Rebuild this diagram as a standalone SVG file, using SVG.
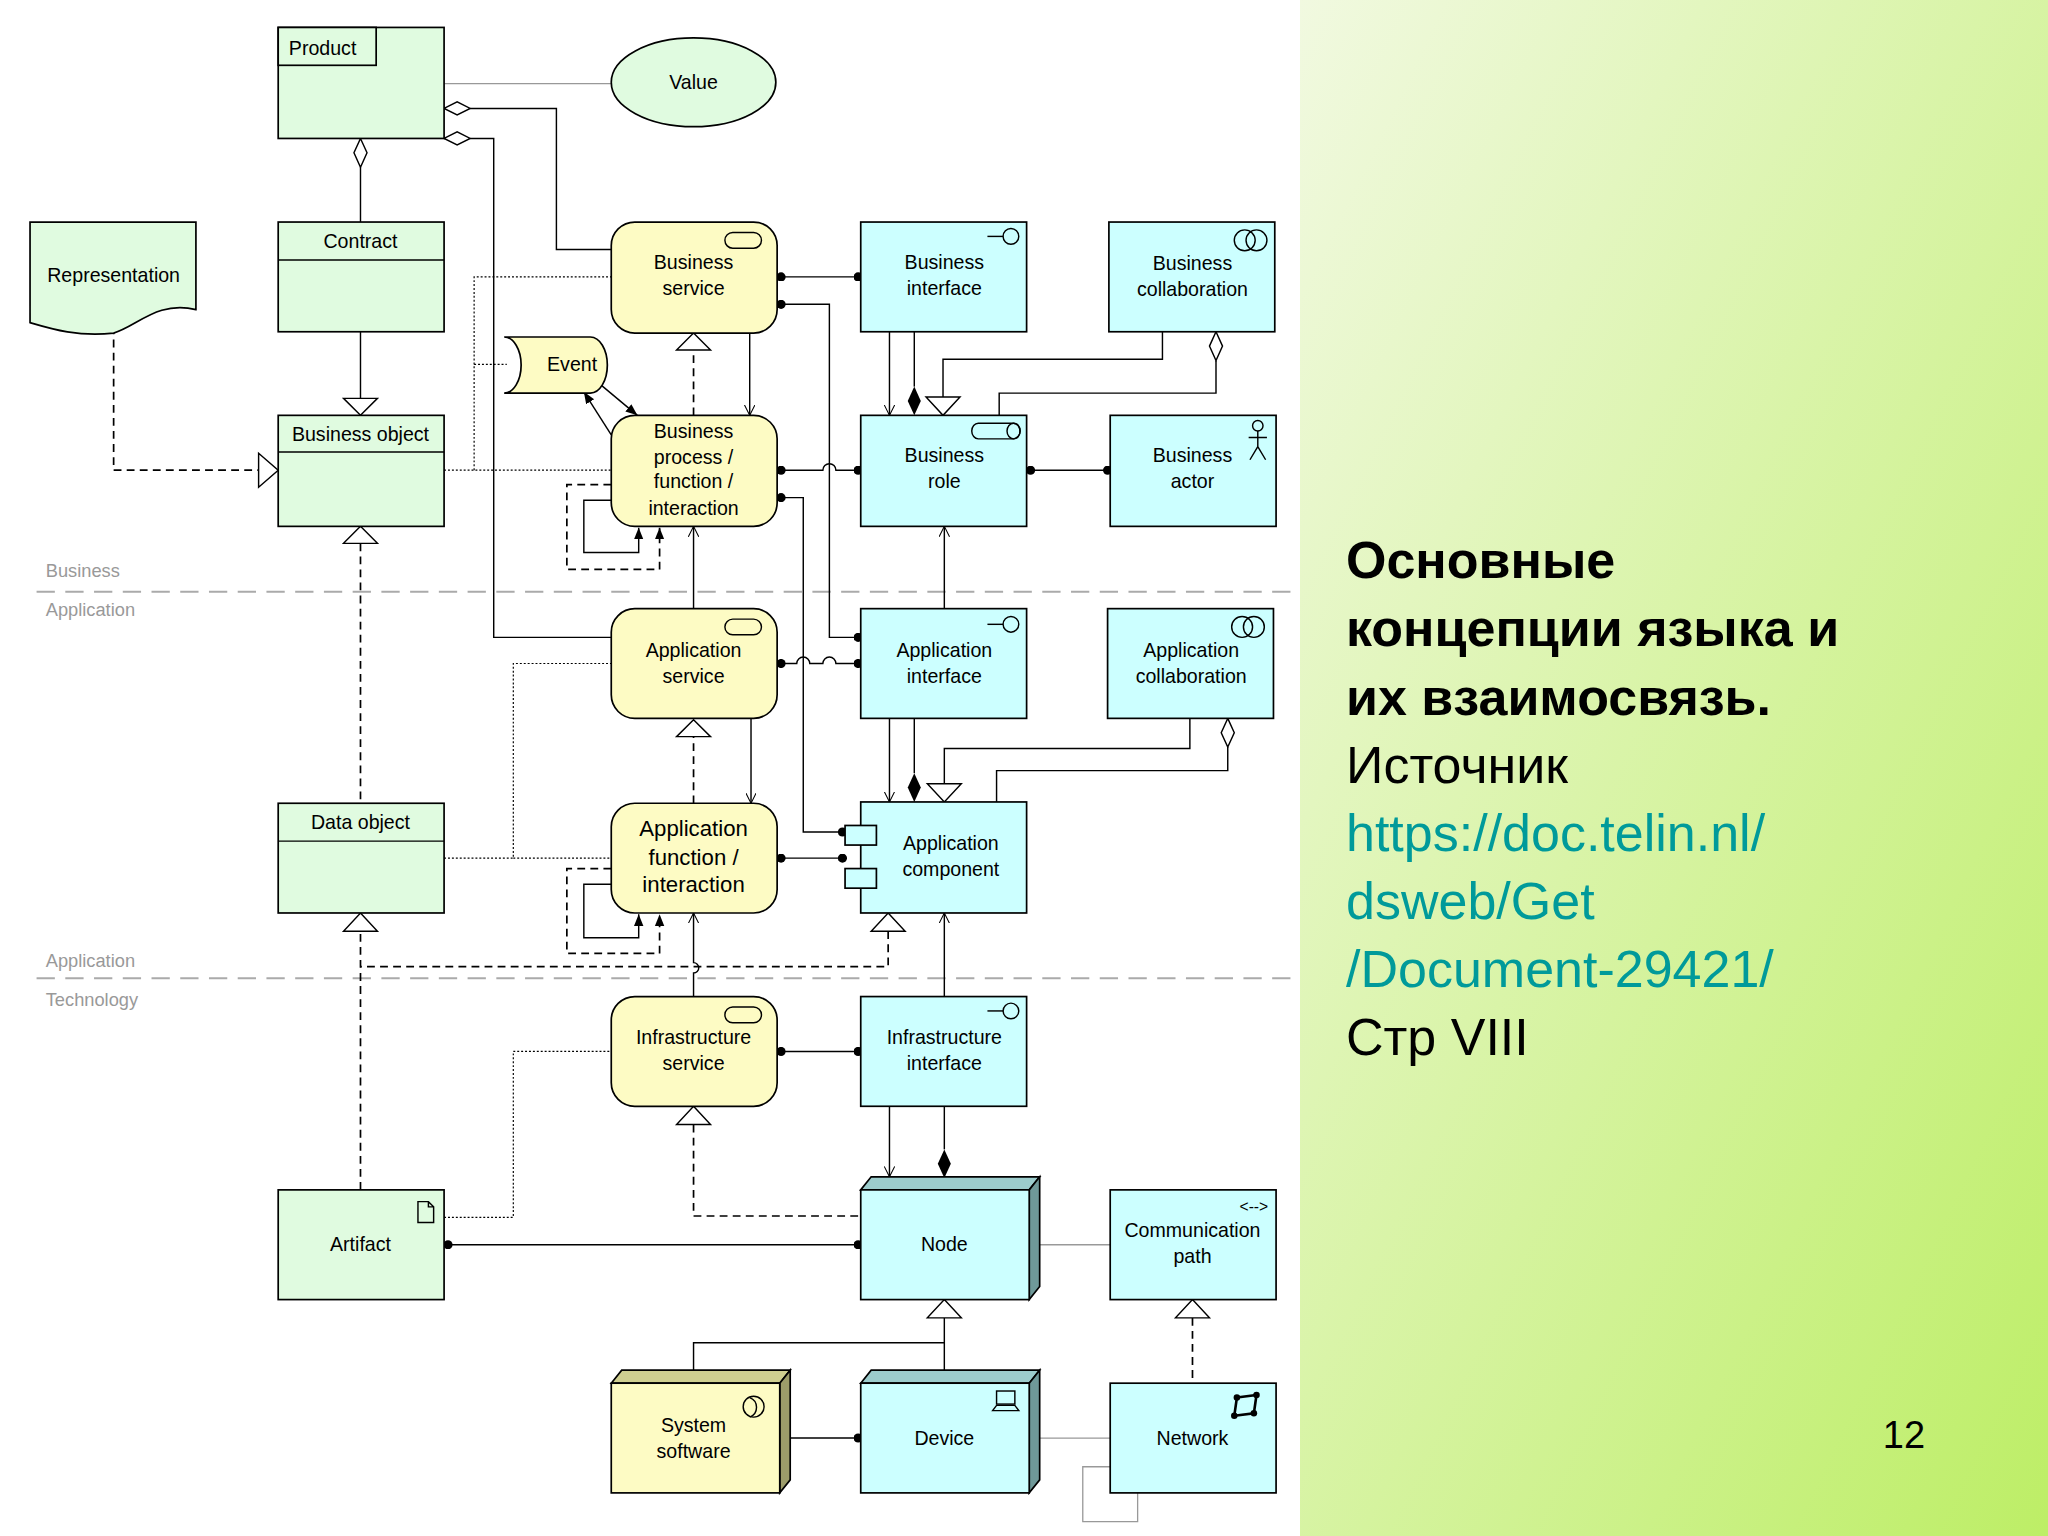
<svg xmlns="http://www.w3.org/2000/svg" width="2048" height="1536" viewBox="0 0 2048 1536">
<defs>
<linearGradient id="bg" x1="0" y1="0" x2="1" y2="1">
<stop offset="0" stop-color="#f1f9e0"/><stop offset="1" stop-color="#bdee66"/>
</linearGradient>
<marker id="oa" viewBox="0 0 10 10" refX="10" refY="5" markerWidth="8" markerHeight="8" orient="auto" markerUnits="userSpaceOnUse"><path d="M0,0 L10,5 L0,10" fill="none" stroke="#000"/></marker>
<marker id="fa" viewBox="0 0 10 10" refX="10" refY="5" markerWidth="9" markerHeight="9" orient="auto" markerUnits="userSpaceOnUse"><path d="M0,1 L10,5 L0,9z" fill="#000"/></marker>
<marker id="dot" viewBox="0 0 10 10" refX="5" refY="5" markerWidth="7" markerHeight="7" markerUnits="userSpaceOnUse"><circle cx="5" cy="5" r="5" fill="#000"/></marker>
</defs>
<style>
text{font-family:"Liberation Sans",Arial,sans-serif;font-size:15px;fill:#000;text-anchor:middle}
.g{fill:#e0fbe0;stroke:#000;stroke-width:1.3}
.y{fill:#fdfbc4;stroke:#000;stroke-width:1.3}
.c{fill:#ccffff;stroke:#000;stroke-width:1.3}
.ln{fill:none;stroke:#000;stroke-width:1.1}
.dl{fill:none;stroke:#000;stroke-width:1.3;stroke-dasharray:6,4}
.dt{fill:none;stroke:#000;stroke-width:0.9;stroke-dasharray:1.5,1.5}
.gl{fill:none;stroke:#999;stroke-width:1}
.ht{fill:#fff;stroke:#000;stroke-width:1.1}
.lay{fill:none;stroke:#aaa;stroke-width:1.5;stroke-dasharray:14,8}
.lt{fill:#999;font-size:14px;text-anchor:start}
.ic{fill:none;stroke:#000;stroke-width:1.1}
.rt{font-size:52px;text-anchor:start}
</style>
<rect x="0" y="0" width="2048" height="1536" fill="#fff"/>
<rect x="1300" y="0" width="748" height="1536" fill="url(#bg)"/>
<text class="rt" x="1346" y="578" font-weight="bold">Основные</text>
<text class="rt" x="1346" y="646" font-weight="bold">концепции языка и</text>
<text class="rt" x="1346" y="715" font-weight="bold">их взаимосвязь.</text>
<text class="rt" x="1346" y="783">Источник</text>
<text class="rt" x="1346" y="851" style="fill:#009a9a">https://doc.telin.nl/</text>
<text class="rt" x="1346" y="919" style="fill:#009a9a">dsweb/Get</text>
<text class="rt" x="1346" y="987" style="fill:#009a9a">/Document-29421/</text>
<text class="rt" x="1346" y="1055">Стр VIII</text>
<text x="1904" y="1448" style="font-size:38px">12</text>
<g transform="scale(1.30612)">
<g id="layers">
<line class="lay" x1="28" y1="453" x2="988" y2="453"/>
<line class="lay" x1="28" y1="749" x2="988" y2="749"/>
<text class="lt" x="35" y="442">Business</text>
<text class="lt" x="35" y="472">Application</text>
<text class="lt" x="35" y="740">Application</text>
<text class="lt" x="35" y="770">Technology</text>
</g>
<g id="connectors">
<line class="gl" x1="340" y1="64" x2="468" y2="64"/>
<polyline class="ln" points="360,83 426,83 426,191 468,191"/>
<path class="ht" d="M340,83 l10,-5 l10,5 l-10,5z"/>
<polyline class="ln" points="360,106 378,106 378,488 468,488"/>
<path class="ht" d="M340,106 l10,-5 l10,5 l-10,5z"/>
<line class="ln" x1="276" y1="128" x2="276" y2="170"/>
<path class="ht" d="M276,106 l5,11 l-5,11 l-5,-11z"/>
<line class="ln" x1="276" y1="254" x2="276" y2="305"/>
<path class="ht" d="M263,305 L289,305 L276,318z"/>
<polyline class="dl" points="87,250 87,360 198,360"/>
<path class="ht" d="M198,347 L213,360 L198,373z"/>
<line class="dl" x1="276" y1="416" x2="276" y2="615"/>
<path class="ht" d="M276,403 L289,416 L263,416z"/>
<polyline class="dt" points="340,360 468,360"/>
<polyline class="dt" points="363,360 363,212 468,212"/>
<polyline class="dt" points="363,279 388,279"/>
<polyline class="dt" points="340,657 393,657 393,508 468,508"/>
<polyline class="dt" points="393,657 468,657"/>
<polyline class="dt" points="340,932 393,932 393,805 468,805"/>
<line class="ln" x1="598" y1="212" x2="657" y2="212" marker-start="url(#dot)" marker-end="url(#dot)"/>
<polyline class="ln" points="598,233 635,233 635,488 657,488" marker-start="url(#dot)" marker-end="url(#dot)"/>
<path class="ln" d="M598,360 H630 a5,5 0 0 1 10,0 H657" marker-start="url(#dot)" marker-end="url(#dot)"/>
<polyline class="ln" points="598,381 615,381 615,637 645,637" marker-start="url(#dot)" marker-end="url(#dot)"/>
<path class="ln" d="M598,508 H610 a5,5 0 0 1 10,0 H630 a5,5 0 0 1 10,0 H657" marker-start="url(#dot)" marker-end="url(#dot)"/>
<line class="ln" x1="598" y1="657" x2="645" y2="657" marker-start="url(#dot)" marker-end="url(#dot)"/>
<line class="ln" x1="598" y1="805" x2="657" y2="805" marker-start="url(#dot)" marker-end="url(#dot)"/>
<line class="ln" x1="343" y1="953" x2="657" y2="953" marker-start="url(#dot)" marker-end="url(#dot)"/>
<line class="ln" x1="600" y1="1101" x2="657" y2="1101" marker-start="url(#dot)" marker-end="url(#dot)"/>
<line class="ln" x1="789" y1="360" x2="848" y2="360" stroke-width="2" marker-start="url(#dot)" marker-end="url(#dot)"/>
<line class="ln" x1="574" y1="255" x2="574" y2="318" marker-end="url(#oa)"/>
<line class="dl" x1="531" y1="318" x2="531" y2="268"/>
<path class="ht" d="M531,255 L544,268 L518,268z"/>
<line class="ln" x1="531" y1="466" x2="531" y2="403" marker-end="url(#oa)"/>
<line class="ln" x1="723" y1="466" x2="723" y2="403" marker-end="url(#oa)"/>
<line class="ln" x1="681" y1="254" x2="681" y2="318" marker-end="url(#oa)"/>
<line class="ln" x1="700" y1="254" x2="700" y2="296"/>
<path d="M700,296 l5,11 l-5,11 l-5,-11z" fill="#000"/>
<polyline class="ln" points="890,254 890,275 722,275 722,304"/>
<path class="ht" d="M709,304 L735,304 L722,318z"/>
<polyline class="ln" points="931,276 931,301 765,301 765,318"/>
<path class="ht" d="M931,254 l5,11 l-5,11 l-5,-11z"/>
<line class="ln" x1="681" y1="550" x2="681" y2="614" marker-end="url(#oa)"/>
<line class="ln" x1="700" y1="550" x2="700" y2="592"/>
<path d="M700,592 l5,11 l-5,11 l-5,-11z" fill="#000"/>
<polyline class="ln" points="911,550 911,573 723,573 723,600"/>
<path class="ht" d="M710,600 L736,600 L723,614z"/>
<polyline class="ln" points="940,572 940,590 763,590 763,614"/>
<path class="ht" d="M940,550 l5,11 l-5,11 l-5,-11z"/>
<line class="dl" x1="531" y1="615" x2="531" y2="564"/>
<path class="ht" d="M531,551 L544,564 L518,564z"/>
<line class="ln" x1="575" y1="550" x2="575" y2="615" marker-end="url(#oa)"/>
<path class="ln" d="M531,763 V745 a4,4 0 0 0 0,-8 V699" marker-end="url(#oa)"/>
<line class="ln" x1="723" y1="763" x2="723" y2="699" marker-end="url(#oa)"/>
<polyline class="dl" points="680,713 680,740 276,740"/>
<path class="ht" d="M680,699 L693,713 L667,713z"/>
<line class="dl" x1="276" y1="911" x2="276" y2="713"/>
<path class="ht" d="M276,699 L289,713 L263,713z"/>
<polyline class="dl" points="531,861 531,931 659,931"/>
<path class="ht" d="M531,847 L544,861 L518,861z"/>
<line class="ln" x1="681" y1="847" x2="681" y2="901" marker-end="url(#oa)"/>
<line class="ln" x1="723" y1="847" x2="723" y2="880"/>
<path d="M723,880 l5,11 l-5,11 l-5,-11z" fill="#000"/>
<line class="ln" x1="723" y1="1009" x2="723" y2="1059"/>
<polyline class="ln" points="723,1028 531,1028 531,1059"/>
<path class="ht" d="M723,995 L736,1009 L710,1009z"/>
<line class="dl" x1="913" y1="1009" x2="913" y2="1059"/>
<path class="ht" d="M913,995 L926,1009 L900,1009z"/>
<line class="gl" x1="796" y1="953" x2="850" y2="953"/>
<line class="gl" x1="796" y1="1101" x2="850" y2="1101"/>
<polyline class="gl" points="850,1123 829,1123 829,1165 871,1165 871,1143"/>
<line class="ln" x1="452" y1="288" x2="488" y2="318" marker-end="url(#fa)"/>
<line class="ln" x1="468" y1="333" x2="447" y2="300" marker-end="url(#fa)"/>
<polyline class="ln" points="468,383 447,383 447,423 489,423 489,404" marker-end="url(#fa)"/>
<polyline class="dl" points="468,371 434,371 434,436 505,436 505,404" marker-end="url(#fa)"/>
<polyline class="ln" points="468,677 447,677 447,718 489,718 489,700" marker-end="url(#fa)"/>
<polyline class="dl" points="468,665 434,665 434,730 505,730 505,700" marker-end="url(#fa)"/>
</g>
<g id="product"><rect class="g" x="213" y="21" width="127" height="85"/><rect class="g" x="213" y="21" width="75" height="29"/><text x="247" y="42">Product</text></g>
<g id="value"><ellipse class="g" cx="531" cy="63" rx="63" ry="34"/><text x="531" y="68">Value</text></g>
<g id="contract"><rect class="g" x="213" y="170" width="127" height="84"/><line class="ln" x1="213" y1="199" x2="340" y2="199"/><text x="276" y="190">Contract</text></g>
<g id="representation"><path class="g" d="M23,170 H150 V237 C120,230 105,250 87,255 C60,258 40,252 23,247z"/><text x="87" y="216">Representation</text></g>
<g id="business-object"><rect class="g" x="213" y="318" width="127" height="85"/><line class="ln" x1="213" y1="346" x2="340" y2="346"/><text x="276" y="338">Business object</text></g>
<g id="business-service"><rect class="y" x="468" y="170" width="127" height="85" rx="18"/><rect class="ic" x="555" y="178" width="28" height="12" rx="6"/><text x="531" y="206">Business</text><text x="531" y="226">service</text></g>
<g id="business-interface"><rect class="c" x="659" y="170" width="127" height="84"/><line class="ic" x1="756" y1="181" x2="768" y2="181"/><circle class="ic" cx="774" cy="181" r="6"/><text x="723" y="206">Business</text><text x="723" y="226">interface</text></g>
<g id="business-collaboration"><rect class="c" x="849" y="170" width="127" height="84"/><circle class="ic" cx="953" cy="184" r="8"/><circle class="ic" cx="962" cy="184" r="8"/><text x="913" y="207">Business</text><text x="913" y="227">collaboration</text></g>
<g id="event"><path class="y" d="M386,258 H452 A13,21.5 0 0 1 452,301 H386 A13,21.5 0 0 0 386,258z"/><text x="438" y="284">Event</text></g>
<g id="business-process"><rect class="y" x="468" y="318" width="127" height="85" rx="18"/><text x="531" y="335">Business</text><text x="531" y="355">process /</text><text x="531" y="374">function /</text><text x="531" y="394">interaction</text></g>
<g id="business-role"><rect class="c" x="659" y="318" width="127" height="85"/><path class="ic" d="M749,324 H776 A5,6 0 0 1 776,336 H749 A5,6 0 0 1 749,324z"/><ellipse class="ic" cx="776" cy="330" rx="5" ry="6"/><text x="723" y="354">Business</text><text x="723" y="374">role</text></g>
<g id="business-actor"><rect class="c" x="850" y="318" width="127" height="85"/><circle class="ic" cx="963" cy="326" r="4"/><path class="ic" d="M963,330 V342 M956,335 H970 M963,342 L957,352 M963,342 L969,352"/><text x="913" y="354">Business</text><text x="913" y="374">actor</text></g>
<g id="application-service"><rect class="y" x="468" y="466" width="127" height="84" rx="18"/><rect class="ic" x="555" y="474" width="28" height="12" rx="6"/><text x="531" y="503">Application</text><text x="531" y="523">service</text></g>
<g id="application-interface"><rect class="c" x="659" y="466" width="127" height="84"/><line class="ic" x1="756" y1="478" x2="768" y2="478"/><circle class="ic" cx="774" cy="478" r="6"/><text x="723" y="503">Application</text><text x="723" y="523">interface</text></g>
<g id="application-collaboration"><rect class="c" x="848" y="466" width="127" height="84"/><circle class="ic" cx="951" cy="480" r="8"/><circle class="ic" cx="960" cy="480" r="8"/><text x="912" y="503">Application</text><text x="912" y="523">collaboration</text></g>
<g id="data-object"><rect class="g" x="213" y="615" width="127" height="84"/><line class="ln" x1="213" y1="644" x2="340" y2="644"/><text x="276" y="635">Data object</text></g>
<g id="application-function"><rect class="y" x="468" y="615" width="127" height="84" rx="18"/><text x="531" y="640" style="font-size:17px">Application</text><text x="531" y="662" style="font-size:17px">function /</text><text x="531" y="683" style="font-size:17px">interaction</text></g>
<g id="application-component"><rect class="c" x="659" y="614" width="127" height="85"/><rect class="c" x="647" y="632" width="24" height="15"/><rect class="c" x="647" y="665" width="24" height="15"/><text x="728" y="651">Application</text><text x="728" y="671">component</text></g>
<g id="infrastructure-service"><rect class="y" x="468" y="763" width="127" height="84" rx="18"/><rect class="ic" x="555" y="771" width="28" height="12" rx="6"/><text x="531" y="799">Infrastructure</text><text x="531" y="819">service</text></g>
<g id="infrastructure-interface"><rect class="c" x="659" y="763" width="127" height="84"/><line class="ic" x1="756" y1="774" x2="768" y2="774"/><circle class="ic" cx="774" cy="774" r="6"/><text x="723" y="799">Infrastructure</text><text x="723" y="819">interface</text></g>
<g id="artifact"><rect class="g" x="213" y="911" width="127" height="84"/><path class="ic" d="M320,920 H328 L332,924 V936 H320z M328,920 V924 H332"/><text x="276" y="958">Artifact</text></g>
<g id="node"><path d="M659,911 L667,901 H796 L788,911z" fill="#9ccccc" stroke="#000" stroke-width="1.3"/><path d="M788,911 L796,901 V985 L788,995z" fill="#6f9999" stroke="#000" stroke-width="1.3"/><rect class="c" x="659" y="911" width="129" height="84"/><text x="723" y="958">Node</text></g>
<g id="communication-path"><rect class="c" x="850" y="911" width="127" height="84"/><text x="960" y="928" style="font-size:12px">&lt;--&gt;</text><text x="913" y="947">Communication</text><text x="913" y="967">path</text></g>
<g id="system-software"><path d="M468,1059 L476,1049 H605 L597,1059z" fill="#cfcf90" stroke="#000" stroke-width="1.3"/><path d="M597,1059 L605,1049 V1133 L597,1143z" fill="#9c9c6a" stroke="#000" stroke-width="1.3"/><rect class="y" x="468" y="1059" width="129" height="84"/><ellipse class="ic" cx="577" cy="1077" rx="8" ry="8"/><path class="ic" d="M574,1070 A8,8 0 0 1 574,1085"/><text x="531" y="1096">System</text><text x="531" y="1116">software</text></g>
<g id="device"><path d="M659,1059 L667,1049 H796 L788,1059z" fill="#9ccccc" stroke="#000" stroke-width="1.3"/><path d="M788,1059 L796,1049 V1133 L788,1143z" fill="#6f9999" stroke="#000" stroke-width="1.3"/><rect class="c" x="659" y="1059" width="129" height="84"/><rect class="ic" x="763" y="1065" width="14" height="10"/><path class="ic" d="M760,1080 H780 L777,1076 H763z"/><text x="723" y="1106">Device</text></g>
<g id="network"><rect class="c" x="850" y="1059" width="127" height="84"/><path d="M947,1070 L962,1068 L960,1082 L945,1084z" fill="none" stroke="#000" stroke-width="2"/><circle cx="947" cy="1070" r="2.5"/><circle cx="962" cy="1068" r="2.5"/><circle cx="960" cy="1082" r="2.5"/><circle cx="945" cy="1084" r="2.5"/><text x="913" y="1106">Network</text></g>
</g>
</svg>
